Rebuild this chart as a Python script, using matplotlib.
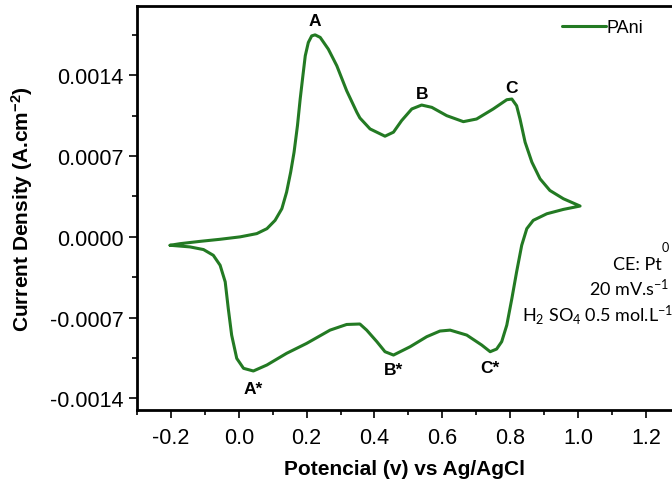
import matplotlib
matplotlib.use("Agg")
import matplotlib.pyplot as plt
from matplotlib.ticker import MultipleLocator, FormatStrFormatter

plt.rcParams['font.family'] = ['Liberation Sans', 'DejaVu Sans']
plt.rcParams['axes.unicode_minus'] = False
plt.rcParams['mathtext.default'] = 'regular'

# Anodic (forward) scan: potential (V) and current density (A/cm2)
anodic_x = [-0.2025, -0.173, -0.114, -0.055, 0.004, 0.053, 0.083, 0.107, 0.127, 0.141,
            0.153, 0.163, 0.173, 0.181, 0.189, 0.196, 0.205, 0.215, 0.225, 0.240,
            0.264, 0.289, 0.318, 0.348, 0.357, 0.387, 0.431, 0.456, 0.480, 0.510,
            0.539, 0.569, 0.613, 0.662, 0.701, 0.750, 0.790, 0.805, 0.819, 0.829,
            0.844, 0.864, 0.888, 0.917, 0.957, 1.006]
anodic_y = [-0.000073, -0.000059, -0.000039, -0.000021, 0.0, 0.000028, 0.000071, 0.000143, 0.000244, 0.000388,
            0.000561, 0.000734, 0.000964, 0.001194, 0.001396, 0.001569, 0.001684, 0.001741, 0.00175, 0.001728,
            0.001626, 0.001482, 0.001266, 0.001079, 0.001030, 0.000935, 0.000872, 0.000907, 0.001007, 0.001108,
            0.001142, 0.001122, 0.00105, 0.000998, 0.001021, 0.001108, 0.001188, 0.001194, 0.001136, 0.001021,
            0.00082, 0.000647, 0.000503, 0.000402, 0.00033, 0.000267]

# Cathodic (reverse) scan
cathodic_x = [1.006, 0.957, 0.908, 0.868, 0.849, 0.834, 0.819, 0.805, 0.790, 0.775,
              0.760, 0.741, 0.716, 0.672, 0.623, 0.593, 0.554, 0.505, 0.456, 0.431,
              0.407, 0.377, 0.357, 0.318, 0.269, 0.200, 0.141, 0.083, 0.043, 0.014,
              -0.006, -0.021, -0.031, -0.040, -0.055, -0.075, -0.104, -0.144, -0.2025]
cathodic_y = [0.000267, 0.000238, 0.0002, 0.000143, 0.000071, -0.000073, -0.000303, -0.000534, -0.000765, -0.000908,
              -0.000972, -0.000995, -0.000937, -0.000851, -0.000808, -0.000816, -0.000865, -0.000952, -0.001024, -0.000995,
              -0.000908, -0.000808, -0.000755, -0.000759, -0.000808, -0.000923, -0.001009, -0.00111, -0.001162, -0.001139,
              -0.001053, -0.000851, -0.00062, -0.00039, -0.000246, -0.00016, -0.00011, -0.000087, -0.000073]

peak_labels = ['A', 'B', 'C', 'A*', 'B*', 'C*']
peak_x = [0.225, 0.539, 0.805, 0.043, 0.456, 0.741]
peak_y = [0.00175, 0.001142, 0.001194, -0.001162, -0.001024, -0.000995]

x_ticks = [-0.2, 0.0, 0.2, 0.4, 0.6, 0.8, 1.0, 1.2]
y_ticks = [-0.0014, -0.0007, 0.0, 0.0007, 0.0014]

green = '#237a23'
W, H = 672, 485
fig = plt.figure(figsize=(W / 100, H / 100), dpi=100)
ax = fig.add_axes([137 / W, 1 - 411 / H, 1 - 137 / W, (411 - 7) / H])

ax.plot(anodic_x + cathodic_x, anodic_y + cathodic_y, color=green, lw=2.2,
        solid_joinstyle='round', solid_capstyle='round', label='PAni')

ax.set_xlim(-0.3, 1.277)
ax.set_ylim(-0.0015, 0.002)
ax.set_xticks(x_ticks)
ax.set_yticks(y_ticks)
ax.xaxis.set_minor_locator(MultipleLocator(0.1))
ax.yaxis.set_minor_locator(MultipleLocator(0.00035))
ax.xaxis.set_major_formatter(FormatStrFormatter('%.1f'))
ax.yaxis.set_major_formatter(FormatStrFormatter('%.4f'))

ax.spines['right'].set_visible(False)
for s in ['left', 'bottom', 'top']:
    ax.spines[s].set_linewidth(2.0)
ax.tick_params(which='major', direction='out', length=5.5, width=1.2, labelsize=15.5)
ax.tick_params(which='minor', direction='out', length=3.5, width=1.2)
ax.tick_params(axis='x', which='major', pad=7)
ax.tick_params(axis='y', which='major', pad=4)
ax.tick_params(top=False, right=False, which='both')

ax.set_xlabel('Potencial (v) vs Ag/AgCl', fontsize=15, fontweight='bold', labelpad=8)
ax.set_ylabel('Current Density (A.cm$^{-2}$)', fontsize=15, fontweight='bold')
ax.yaxis.set_label_coords(-0.19, 0.5)

# peak labels
offsets = [(0, 5, 'bottom'), (0, 3, 'bottom'), (0, 3, 'bottom'),
           (0, -7, 'top'), (0, -5, 'top'), (0, -6, 'top')]
for lab, px, py, (dx, dy, va) in zip(peak_labels, peak_x, peak_y, offsets):
    ax.annotate(lab, (px, py), xytext=(dx, dy), textcoords='offset points',
                ha='center', va=va, fontsize=12.5, fontweight='bold')

leg = ax.legend(loc='center left', bbox_to_anchor=(0.795, 0.946), frameon=False,
                fontsize=13, handlelength=2.4, handletextpad=0.05, borderpad=0,
                borderaxespad=0)

ann_font = ['Lato', 'DejaVu Sans']
fig.text(662 / W, 1 - 270 / H, 'CE: Pt', ha='right', va='baseline', fontsize=13,
         family=ann_font)
fig.text(665 / W, 1 - 252 / H, '0', ha='center', va='baseline', fontsize=9,
         family=ann_font)
fig.text(669 / W, 1 - 296 / H, '20 mV.s$^{-1}$', ha='right', va='baseline', fontsize=13,
         family=ann_font)
fig.text(673 / W, 1 - 321 / H, 'H$_{2}$ SO$_{4}$ 0.5 mol.L$^{-1}$', ha='right', va='baseline',
         fontsize=13, family=ann_font)

fig.savefig('out.png', dpi=100)
